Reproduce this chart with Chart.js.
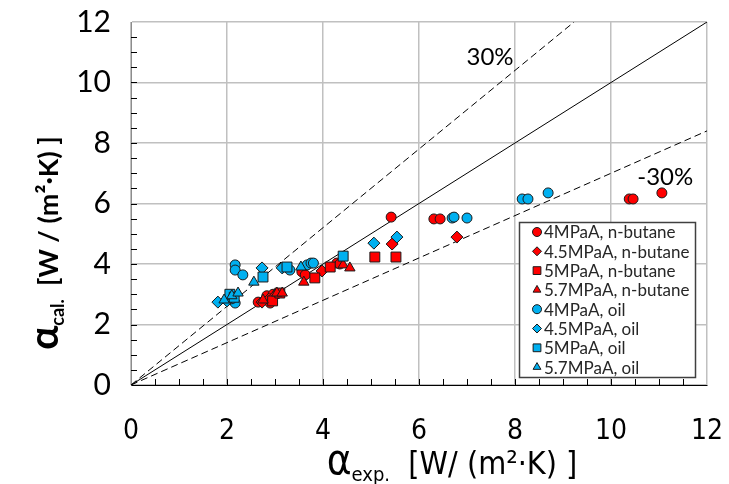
<!DOCTYPE html>
<html><head><meta charset="utf-8">
<script src="https://cdn.jsdelivr.net/npm/chart.js@4/dist/chart.umd.min.js"></script>
<style>html,body{margin:0;padding:0;background:#fff}#wrap{width:729px;height:484px}</style>
</head><body><div id="wrap"><canvas id="c" width="729" height="484"></canvas></div>
<script>
// ---- data (alpha_exp, alpha_cal) ----
const nButane4  = [[2.65,2.74],[2.83,2.95],[2.9,2.71],[2.96,3.0],[3.05,3.02],[3.56,3.74],[3.63,3.64],[4.29,4.03],[4.35,4.0],[5.42,5.55],[6.31,5.49],[6.44,5.49],[10.38,6.15],[10.46,6.15],[11.06,6.35]];
const nButane45 = [[2.73,2.74],[2.88,2.85],[3.0,2.95],[3.98,3.77],[5.44,4.66],[6.79,4.89]];
const nButane5  = [[2.95,2.78],[3.1,3.04],[3.83,3.54],[4.15,3.9],[5.08,4.23],[5.52,4.23]];
const nButane57 = [[2.75,2.81],[3.04,3.04],[3.15,3.04],[3.6,3.4],[4.42,3.97],[4.56,3.87]];
const oil4  = [[2.17,3.97],[2.17,3.8],[2.33,3.64],[2.17,2.71],[2.1,2.85],[3.31,3.8],[3.67,3.97],[3.75,4.03],[3.8,4.03],[6.69,5.52],[6.73,5.55],[7.0,5.52],[8.15,6.15],[8.27,6.15],[8.69,6.35]];
const oil45 = [[1.81,2.74],[2.0,2.78],[2.05,2.9],[2.73,3.87],[3.15,3.87],[5.06,4.69],[5.54,4.89]];
const oil5  = [[2.06,3.0],[2.15,2.9],[2.75,3.57],[3.25,3.9],[4.42,4.26]];
const oil57 = [[1.94,2.81],[2.1,2.95],[2.23,3.04],[2.56,3.4],[3.54,3.9]];
const seriesNames = ['4MPaA, n-butane','4.5MPaA, n-butane','5MPaA, n-butane','5.7MPaA, n-butane','4MPaA, oil','4.5MPaA, oil','5MPaA, oil','5.7MPaA, oil'];
const lineEqual   = [[0,0],[12,12]];
const linePlus30  = [[0,0],[12/1.3,12]];
const lineMinus30 = [[0,0],[12,8.4]];
const axisTicks = [0,2,4,6,8,10,12];
const labelPlus30 = {text:'30%', x:7.48, y:10.84};
const labelMinus30 = {text:'-30%', x:11.13, y:6.88};

const RED='#ff0000', BLUE='#00b0f0', EDGE='#1a1a1a';
const styles = [
  {c:RED,s:'circle',r:5},{c:RED,s:'rectRot',r:6},{c:RED,s:'rect',r:7},{c:RED,s:'triangle',r:6},
  {c:BLUE,s:'circle',r:5},{c:BLUE,s:'rectRot',r:6},{c:BLUE,s:'rect',r:7},{c:BLUE,s:'triangle',r:6}
];
const allSeries=[nButane4,nButane45,nButane5,nButane57,oil4,oil45,oil5,oil57];
const toXY = a => a.map(p=>({x:p[0],y:p[1]}));
const datasets = allSeries.map((d,i)=>({
  label: seriesNames[i], data: toXY(d), showLine:false,
  pointStyle: styles[i].s, pointRadius: styles[i].r, backgroundColor: styles[i].c,
  borderColor: EDGE, borderWidth: 1, order: 8-i
}));
[[lineEqual,[]],[linePlus30,[7,4]],[lineMinus30,[7,4]]].forEach(([d,dash])=>{
  datasets.push({label:'', data:toXY(d), showLine:true, pointRadius:0, borderColor:'#000', borderWidth:1, borderDash:dash, fill:false, order:20});
});

const YFONT = "Lato, 'Open Sans', sans-serif";
const XFONT = "'Liberation Sans Narrow', 'DejaVu Sans Condensed', sans-serif";

function drawParts(ctx, parts){
  let w=0; parts.forEach(p=>{ctx.font=p.font; p.w=ctx.measureText(p.text).width; w+=p.w;});
  let x=-w/2;
  parts.forEach(p=>{ctx.font=p.font; ctx.fillText(p.text, x, p.dy||0); x+=p.w;});
}

const extras = {
  id:'extras',
  afterDraw(chart){
    const ctx=chart.ctx, xs=chart.scales.x, ys=chart.scales.y, a=chart.chartArea;
    ctx.save();
    // minor ticks
    ctx.strokeStyle='#000'; ctx.lineWidth=1;
    for(let v=0.5; v<12; v+=0.5){
      const px=Math.round(xs.getPixelForValue(v))+0.5;
      ctx.beginPath(); ctx.moveTo(px,a.bottom); ctx.lineTo(px,a.bottom-6); ctx.stroke();
      const py=Math.round(ys.getPixelForValue(v))+0.5;
      ctx.beginPath(); ctx.moveTo(a.left,py); ctx.lineTo(a.left+6,py); ctx.stroke();
    }
    // percent labels
    ctx.fillStyle='#000'; ctx.textAlign='center'; ctx.textBaseline='middle';
    ctx.font="24px "+YFONT;
    [labelPlus30,labelMinus30].forEach(l=>ctx.fillText(l.text, xs.getPixelForValue(l.x), ys.getPixelForValue(l.y)));
    // axis titles
    ctx.textAlign='left'; ctx.textBaseline='alphabetic';
    ctx.save(); ctx.translate(452,474);
    drawParts(ctx,[
      {text:'α', font:"42px "+XFONT},
      {text:'exp.', font:"20px "+XFONT, dy:7},
      {text:'  [W/ (m²·K) ]', font:"32px "+XFONT}
    ]);
    ctx.restore();
    ctx.save(); ctx.translate(58,243); ctx.rotate(-Math.PI/2);
    drawParts(ctx,[
      {text:'α', font:"bold 40px "+YFONT},
      {text:'cal.', font:"bold 18px "+YFONT, dy:6},
      {text:'  [W / (m²·K) ]', font:"bold 27px "+YFONT}
    ]);
    ctx.restore();
    // legend
    const L={x:519,y:222,w:176,h:155};
    ctx.fillStyle='#fff'; ctx.fillRect(L.x,L.y,L.w,L.h);
    ctx.strokeStyle='#404040'; ctx.lineWidth=1.5; ctx.strokeRect(L.x+0.5,L.y+0.5,L.w,L.h);
    ctx.font="17px "+YFONT; ctx.textBaseline='middle'; ctx.textAlign='left';
    chart.data.datasets.slice(0,8).forEach((ds,i)=>{
      const cy=232+i*19.3;
      ctx.fillStyle=ds.backgroundColor; ctx.strokeStyle=EDGE; ctx.lineWidth=1;
      Chart.helpers.drawPoint(ctx,{pointStyle:ds.pointStyle,radius:ds.pointStyle==='rect'?5.5:4.5,rotation:0,borderWidth:1},537,cy);
      ctx.fillStyle='#262626'; ctx.fillText(ds.label,544,cy+1);
    });
    ctx.restore();
  }
};

new Chart(document.getElementById('c'),{
  type:'scatter',
  data:{datasets},
  options:{
    responsive:false, animation:false, devicePixelRatio:1,
    layout:{padding:{left:0,top:22,right:22,bottom:0}},
    plugins:{legend:{display:false},tooltip:{enabled:false}},
    scales:{
      x:{type:'linear',min:0,max:12,
        afterBuildTicks:s=>{s.ticks=axisTicks.map(v=>({value:v}));},
        afterFit:s=>{s.height=99; s.paddingLeft=0; s.paddingRight=0;},
        grid:{color:'#c0c0c0',lineWidth:1.5,drawTicks:false},
        border:{color:'#000',width:1},
        ticks:{color:'#000',padding:30,font:{family:XFONT,size:28},maxRotation:0}},
      y:{type:'linear',min:0,max:12,
        afterBuildTicks:s=>{s.ticks=axisTicks.map(v=>({value:v}));},
        afterFit:s=>{s.width=131; s.paddingTop=0; s.paddingBottom=0;},
        grid:{color:'#c0c0c0',lineWidth:1.5,drawTicks:false},
        border:{color:'#8c8c8c',width:1},
        ticks:{color:'#000',padding:20,font:{family:YFONT,size:30}}}
    }
  },
  plugins:[extras]
});
</script></body></html>
